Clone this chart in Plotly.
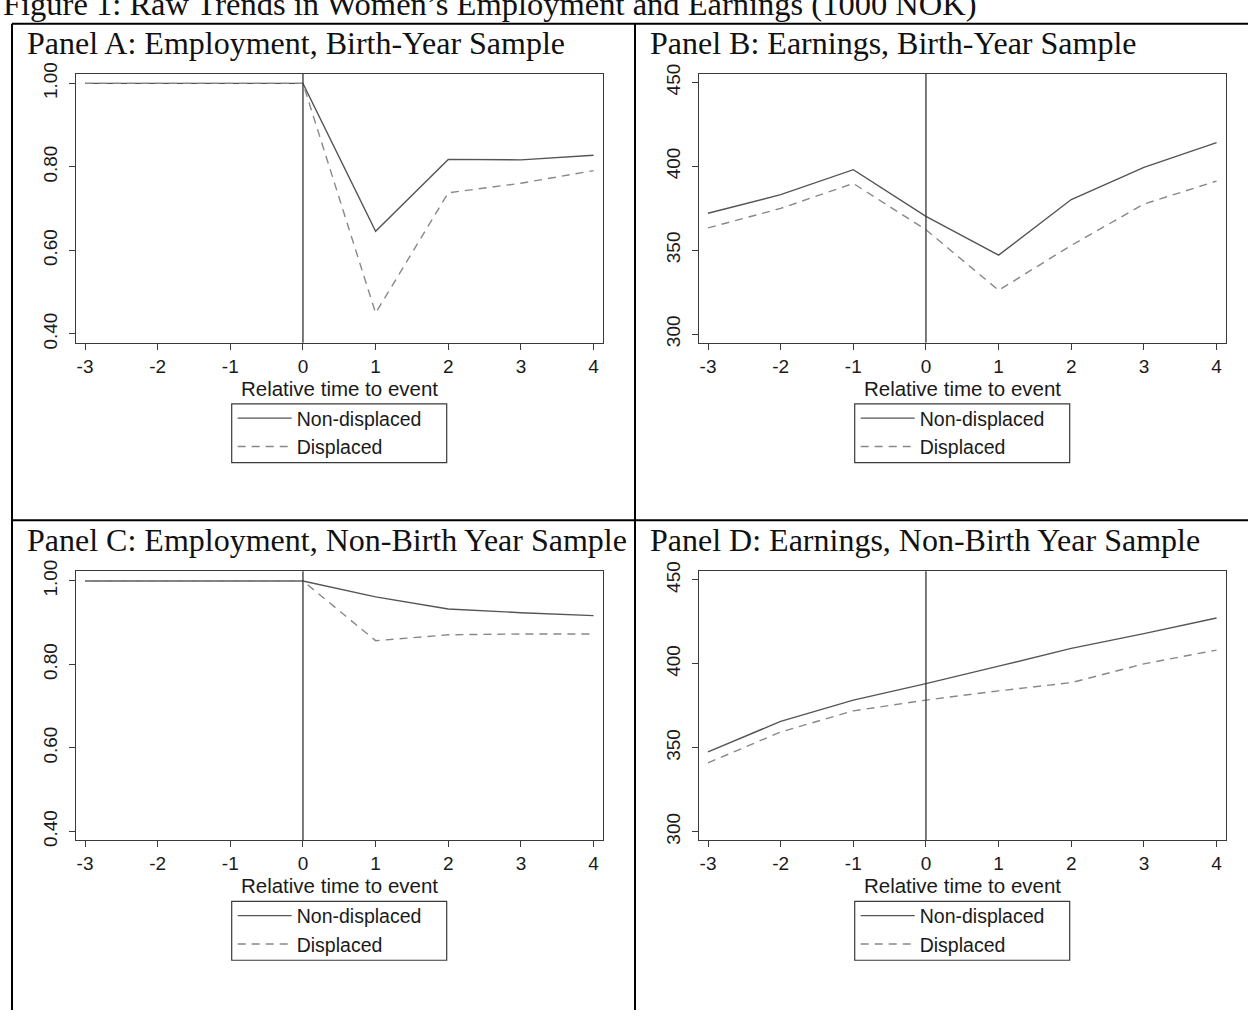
import plotly.graph_objects as go

# ---------------- data ----------------
periods = [-3, -2, -1, 0, 1, 2, 3, 4]
event_time = 0

empA_non = [1.00, 1.00, 1.00, 1.00, 0.646, 0.818, 0.817, 0.828]
empA_dis = [1.00, 1.00, 1.00, 1.00, 0.450, 0.738, 0.761, 0.791]

earnB_non = [372.0, 383.1, 398.0, 370.2, 347.1, 380.2, 399.4, 414.1]
earnB_dis = [363.3, 374.9, 389.8, 362.2, 326.1, 352.9, 377.5, 391.2]

empC_non = [1.00, 1.00, 1.00, 1.00, 0.962, 0.933, 0.924, 0.917]
empC_dis = [1.00, 1.00, 1.00, 1.00, 0.857, 0.871, 0.873, 0.873]

earnD_non = [347.6, 365.7, 378.4, 388.2, 398.6, 409.2, 418.0, 427.3]
earnD_dis = [341.0, 359.4, 372.0, 378.4, 383.9, 388.8, 400.0, 408.2]

emp_ticks = [0.40, 0.60, 0.80, 1.00]
earn_ticks = [300, 350, 400, 450]
x_ticks = [-3, -2, -1, 0, 1, 2, 3, 4]
x_tick_labels = ["-3", "-2", "-1", "0", "1", "2", "3", "4"]

series_names = ["Non-displaced", "Displaced"]
panel_titles = [
    "Panel A: Employment, Birth-Year Sample",
    "Panel B: Earnings, Birth-Year Sample",
    "Panel C: Employment, Non-Birth Year Sample",
    "Panel D: Earnings, Non-Birth Year Sample",
]
x_title = "Relative time to event"
fig_title = "Figure 1: Raw Trends in Women\u2019s Employment and Earnings (1000 NOK)"

# ---------------- layout constants ----------------
W, H = 1248, 1017
SANS = "Liberation Sans, Arial, sans-serif"
SERIF = "Liberation Serif, Times New Roman, serif"
AX = "#3a3a3a"
SOLID = "#555555"
DASHED = "#888888"

def px_x(p):
    return p / W

def px_y(p):
    return 1 - p / H

panel_dx = 623
panel_dy = 507
col_x = [(76, 603), (76 + panel_dx, 603 + panel_dx)]
row_y = [(63, 337), (63 + panel_dy, 337 + panel_dy)]

panels = [
    (empA_non, empA_dis, emp_ticks, [0.379, 1.023], ".2f", 0, 0),
    (earnB_non, earnB_dis, earn_ticks, [294.9, 455.1], "d", 0, 1),
    (empC_non, empC_dis, emp_ticks, [0.379, 1.023], ".2f", 1, 0),
    (earnD_non, earnD_dis, earn_ticks, [294.9, 455.1], "d", 1, 1),
]

fig = go.Figure()
layout = dict(
    width=W, height=H,
    margin=dict(l=0, r=0, t=0, b=0),
    paper_bgcolor="white", plot_bgcolor="white",
    showlegend=True,
    font=dict(family=SANS, color="#1a1a1a"),
)

annotations = []
shapes = []

for i, (non, dis, yt, yr, fmt, r, c) in enumerate(panels):
    k = "" if i == 0 else str(i + 1)
    xa, ya = "x" + k, "y" + k
    leg = "legend" + k
    fig.add_trace(go.Scatter(x=periods, y=non, mode="lines", name=series_names[0],
                             line=dict(color=SOLID, width=1.4), xaxis=xa, yaxis=ya,
                             legend=leg))
    fig.add_trace(go.Scatter(x=periods, y=dis, mode="lines", name=series_names[1],
                             line=dict(color=DASHED, width=1.4, dash="8px,6px"),
                             xaxis=xa, yaxis=ya, legend=leg))
    x0, x1 = col_x[c]
    y0, y1 = row_y[r]
    layout["xaxis" + k] = dict(
        domain=[px_x(x0), px_x(x1)], range=[-3.124, 4.13], anchor=ya,
        tickvals=x_ticks, ticktext=x_tick_labels,
        ticks="outside", ticklen=6, tickwidth=1.2, tickcolor=AX,
        showline=True, linecolor=AX, linewidth=1.3, mirror=True,
        showgrid=False, zeroline=False,
        tickfont=dict(family=SANS, size=19, color="#1a1a1a"),
        title=dict(text=x_title, standoff=2, font=dict(family=SANS, size=20.5, color="#1a1a1a")),
    )
    layout["yaxis" + k] = dict(
        domain=[px_y(y1), px_y(y0)], range=yr, anchor=xa,
        tickvals=yt, tickformat=fmt, tickangle=-90,
        ticks="outside", ticklen=6, tickwidth=1.2, tickcolor=AX,
        showline=True, linecolor=AX, linewidth=1.3, mirror=True,
        showgrid=False, zeroline=False, ticklabelstandoff=4,
        tickfont=dict(family=SANS, size=19, color="#1a1a1a"),
    )
    # vertical event line
    shapes.append(dict(type="line", xref=xa, yref=ya + " domain", x0=event_time, x1=event_time,
                       y0=0, y1=1, line=dict(color="#333333", width=1.3)))
    # legend (entries native, frame drawn as a rectangle)
    fx0 = 231.7 + c * panel_dx
    fy0 = 399.3 + r * panel_dy
    layout[leg] = dict(
        x=px_x(fx0 + 1), y=px_y(fy0 - 5), xanchor="left", yanchor="top",
        borderwidth=0, bgcolor="rgba(0,0,0,0)",
        font=dict(family=SANS, size=19.5, color="#1a1a1a"),
        itemwidth=54, tracegroupgap=0,
    )
    shapes.append(dict(type="rect", xref="paper", yref="paper",
                       x0=px_x(fx0), x1=px_x(fx0 + 215), y0=px_y(fy0 + 60), y1=px_y(fy0),
                       line=dict(color=AX, width=1.2), fillcolor="rgba(0,0,0,0)"))
    # panel title
    tx = 25 if c == 0 else 648
    ty = 31.5 + r * panel_dy
    annotations.append(dict(text=panel_titles[i], xref="paper", yref="paper",
                            x=px_x(tx), y=px_y(ty), xanchor="left", yanchor="middle",
                            showarrow=False, font=dict(family=SERIF, size=32, color="#111111")))

# figure title (clipped at top)
annotations.append(dict(text=fig_title, xref="paper", yref="paper",
                        x=px_x(1), y=px_y(12), xanchor="left", yanchor="bottom",
                        showarrow=False, font=dict(family=SERIF, size=32.5, color="#111111")))

# table borders
BW = 2
shapes += [
    dict(type="line", xref="paper", yref="paper", x0=px_x(12), x1=px_x(12), y0=0, y1=px_y(12),
         line=dict(color="black", width=BW)),
    dict(type="line", xref="paper", yref="paper", x0=px_x(635), x1=px_x(635), y0=0, y1=px_y(12),
         line=dict(color="black", width=BW)),
    dict(type="line", xref="paper", yref="paper", x0=px_x(12), x1=1, y0=px_y(12), y1=px_y(12),
         line=dict(color="black", width=BW)),
    dict(type="line", xref="paper", yref="paper", x0=px_x(12), x1=1, y0=px_y(518), y1=px_y(518),
         line=dict(color="black", width=BW)),
]

layout["annotations"] = annotations
layout["shapes"] = shapes
fig.update_layout(**layout)
fig.write_html("out.html", config={"displayModeBar": False},
               post_script="document.body.style.margin='0';")
